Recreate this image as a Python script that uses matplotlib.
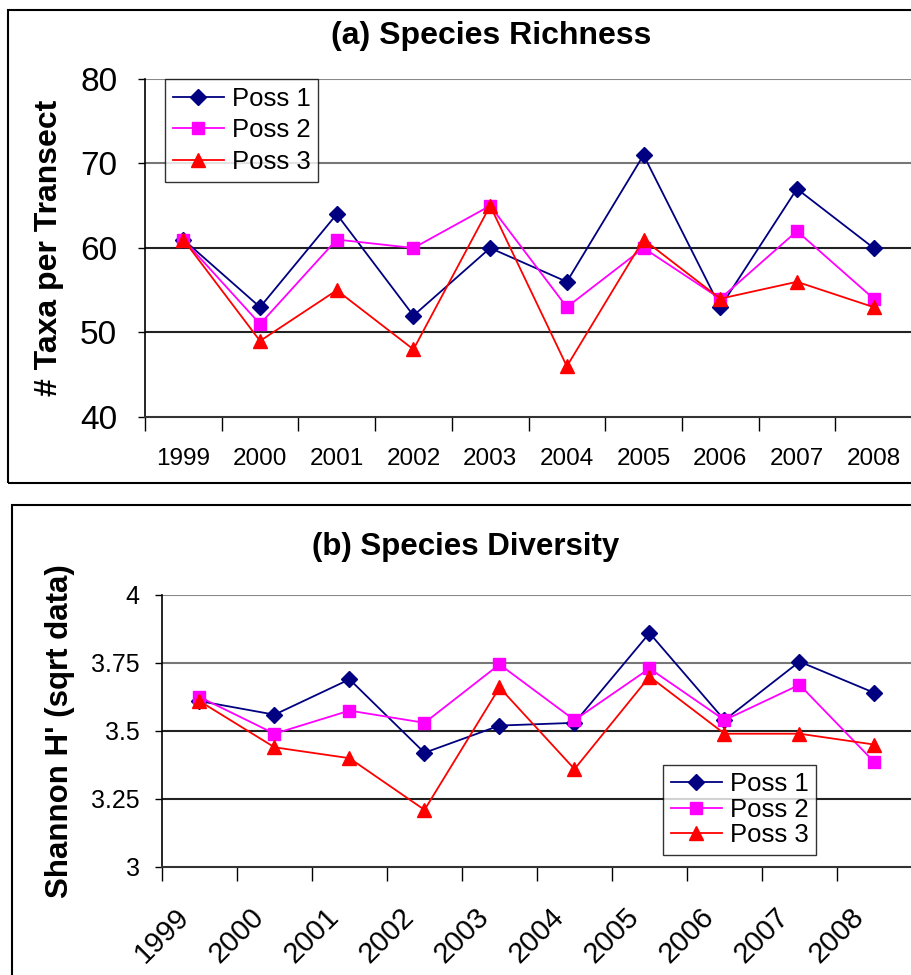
import numpy as np
import matplotlib
matplotlib.use("Agg")
import matplotlib.pyplot as plt
from matplotlib.patches import Rectangle
from matplotlib.ticker import FixedLocator
from matplotlib.transforms import ScaledTranslation

plt.rcParams['font.family'] = ['Liberation Sans', 'DejaVu Sans']

years = ['1999', '2000', '2001', '2002', '2003', '2004', '2005', '2006', '2007', '2008']

# species richness (# taxa per transect)
rich_p1 = [61, 53, 64, 52, 60, 56, 71, 53, 67, 60]
rich_p2 = [61, 51, 61, 60, 65, 53, 60, 54, 62, 54]
rich_p3 = [61, 49, 55, 48, 65, 46, 61, 54, 56, 53]

# Shannon H' on sqrt-transformed data
div_p1 = [3.61, 3.56, 3.69, 3.42, 3.52, 3.53, 3.86, 3.54, 3.755, 3.64]
div_p2 = [3.625, 3.49, 3.575, 3.53, 3.745, 3.54, 3.73, 3.54, 3.67, 3.385]
div_p3 = [3.61, 3.44, 3.40, 3.21, 3.66, 3.36, 3.70, 3.49, 3.49, 3.45]

labels = ['Poss 1', 'Poss 2', 'Poss 3']
colors = ['#000080', '#FF00FF', '#FF0000']
markers = ['D', 's', '^']
msizes = [8.5, 9, 10.5]

fig = plt.figure(figsize=(9.12, 9.75), dpi=100)

# panel frames
fig.patches.append(Rectangle((8 / 912, 1 - 483 / 975), 1.0, 473 / 975,
                             transform=fig.transFigure, fill=False,
                             edgecolor='black', linewidth=1.5))
fig.patches.append(Rectangle((12 / 912, -0.05), 1.0, 1 - 505 / 975 + 0.05,
                             transform=fig.transFigure, fill=False,
                             edgecolor='black', linewidth=1.5))

x = np.arange(len(years))


def style_axes(ax, ylim, yticks, gridcol):
    ax.set_xlim(-0.5, len(years) - 0.5)
    ax.set_ylim(*ylim)
    ax.set_yticks(yticks)
    for yv, c in zip(yticks[1:], gridcol):
        ax.axhline(yv, color=c, linewidth=1.5, zorder=0)
    ax.spines['right'].set_visible(False)
    ax.spines['top'].set_visible(False)
    ax.spines['left'].set_linewidth(1.2)
    ax.spines['bottom'].set_linewidth(1.5)
    ax.spines['bottom'].set_color('#333333')
    # category boundaries carry the tick marks, labels sit at the centres
    ax.xaxis.set_major_locator(FixedLocator(np.arange(-0.5, len(years) + 0.5, 1)))
    ax.xaxis.set_major_formatter(plt.NullFormatter())
    ax.xaxis.set_minor_locator(FixedLocator(x))
    ax.set_xticklabels(years, minor=True)
    ax.tick_params(axis='x', which='major', length=10, width=1, direction='out')
    ax.tick_params(axis='x', which='minor', length=0)
    ax.tick_params(axis='y', length=5, width=1, direction='out')


# (a) species richness
ax1 = fig.add_axes([145 / 912, 1 - 417 / 975, 767 / 912, 338 / 975])
for vals, lab, c, m, ms in zip([rich_p1, rich_p2, rich_p3], labels, colors, markers, msizes):
    ax1.plot(x, vals, color=c, marker=m, markersize=ms, linewidth=1.3, label=lab)
style_axes(ax1, (40, 80), [40, 50, 60, 70, 80], ['#222222', '#222222', '#777777', '#888888'])
ax1.tick_params(axis='y', labelsize=24, pad=15)
ax1.tick_params(axis='x', which='minor', labelsize=17.5, pad=22)
ax1.set_ylabel('# Taxa per Transect', fontsize=23, fontweight='bold')
ax1.yaxis.set_label_coords(-0.106, 0.5)
leg1 = ax1.legend(loc='upper left', bbox_to_anchor=(0.026, 1.0), fontsize=18.5,
                  frameon=True, fancybox=False, edgecolor='black',
                  handlelength=2.0, handletextpad=0.3, borderpad=0.3,
                  labelspacing=0.3, borderaxespad=0)
leg1.get_frame().set_linewidth(1.0)
fig.text(491 / 912, 1 - 36 / 975, '(a) Species Richness', ha='center', va='center',
         fontsize=23, fontweight='bold')

# (b) species diversity
ax2 = fig.add_axes([162 / 912, 1 - 867 / 975, 750 / 912, 272 / 975])
for vals, lab, c, m, ms in zip([div_p1, div_p2, div_p3], labels, colors, markers, msizes):
    ax2.plot(x, vals, color=c, marker=m, markersize=ms, linewidth=1.3, label=lab)
style_axes(ax2, (3, 4), [3, 3.25, 3.5, 3.75, 4], ['#222222', '#222222', '#777777', '#888888'])
ax2.set_yticklabels(['3', '3.25', '3.5', '3.75', '4'])
ax2.tick_params(axis='y', labelsize=18, pad=11)
ax2.tick_params(axis='x', which='minor', labelsize=21, pad=26)
shift = ScaledTranslation(-0.25, 0, fig.dpi_scale_trans)
for t in ax2.get_xticklabels(minor=True):
    t.set_rotation(45)
    t.set_ha('right')
    t.set_rotation_mode('anchor')
    t.set_transform(t.get_transform() + shift)
ax2.set_ylabel("Shannon H' (sqrt data)", fontsize=22.5, fontweight='bold')
ax2.yaxis.set_label_coords(-0.116, 0.5)
leg2 = ax2.legend(loc='lower left', bbox_to_anchor=(0.668, 0.045), fontsize=18.5,
                  frameon=True, fancybox=False, edgecolor='black',
                  handlelength=2.0, handletextpad=0.3, borderpad=0.3,
                  labelspacing=0.05, borderaxespad=0)
leg2.get_frame().set_linewidth(1.0)
fig.text(466 / 912, 1 - 547 / 975, '(b) Species Diversity', ha='center', va='center',
         fontsize=22.5, fontweight='bold')

fig.savefig('out.png', dpi=100)
